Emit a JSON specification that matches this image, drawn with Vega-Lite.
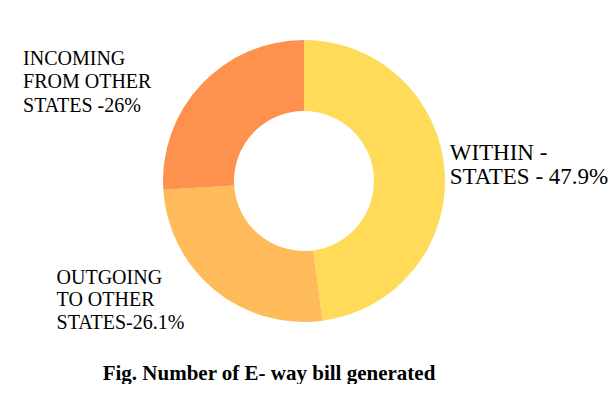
{
  "$schema": "https://vega.github.io/schema/vega-lite/v6.json",
  "width": 608,
  "height": 362,
  "padding": 0,
  "autosize": {"type": "pad"},
  "background": "white",
  "config": {"view": {"stroke": null}},
  "title": {
    "text": "Fig. Number of  E- way bill generated",
    "orient": "bottom",
    "anchor": "middle",
    "font": "Liberation Serif",
    "fontSize": 21,
    "fontWeight": "bold",
    "color": "#000000",
    "offset": 1,
    "dx": -35
  },
  "data": {
    "values": [
      {"cat": "WITHIN", "label": "WITHIN -\nSTATES - 47.9%", "share": 47.9, "k": 1},
      {"cat": "OUTGOING", "label": "OUTGOING\nTO OTHER\nSTATES-26.1%", "share": 26.1, "k": 2},
      {"cat": "INCOMING", "label": "INCOMING\nFROM OTHER\nSTATES -26%", "share": 26, "k": 3}
    ]
  },
  "encoding": {
    "theta": {"field": "share", "type": "quantitative", "stack": true},
    "order": {"field": "k", "type": "quantitative"}
  },
  "layer": [
    {
      "mark": {"type": "arc", "outerRadius": 141, "innerRadius": 70},
      "encoding": {
        "color": {
          "field": "cat",
          "type": "nominal",
          "scale": {"domain": ["WITHIN", "OUTGOING", "INCOMING"], "range": ["#FFDB59", "#FFBB5A", "#FF914F"]},
          "legend": null
        }
      }
    },
    {
      "mark": {"type": "text", "radius": 146, "align": "left", "baseline": "alphabetic", "font": "Liberation Serif", "fontSize": 23, "lineHeight": 23.3, "lineBreak": "\n", "dy": -11, "color": "#000000"},
      "encoding": {"text": {"condition": {"test": "datum.cat === 'WITHIN'", "field": "label"}, "value": ""}}
    },
    {
      "mark": {"type": "text", "radius": 133, "align": "left", "baseline": "alphabetic", "font": "Liberation Serif", "fontSize": 20, "lineHeight": 22.6, "lineBreak": "\n", "dx": -163, "dy": 0, "color": "#000000"},
      "encoding": {"text": {"condition": {"test": "datum.cat === 'OUTGOING'", "field": "label"}, "value": ""}}
    },
    {
      "mark": {"type": "text", "radius": 170, "align": "left", "baseline": "alphabetic", "font": "Liberation Serif", "fontSize": 20, "lineHeight": 23.5, "lineBreak": "\n", "dx": -157, "dy": 0, "color": "#000000"},
      "encoding": {"text": {"condition": {"test": "datum.cat === 'INCOMING'", "field": "label"}, "value": ""}}
    }
  ]
}
